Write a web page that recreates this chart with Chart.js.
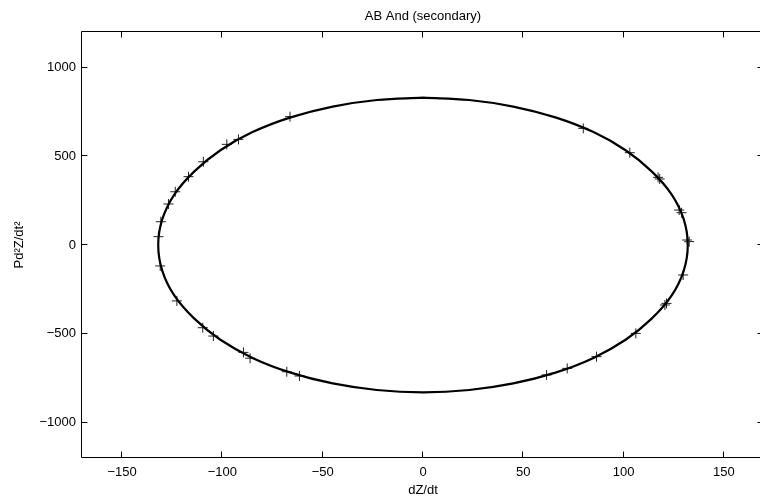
<!DOCTYPE html>
<html><head><meta charset="utf-8">
<script src="https://cdn.jsdelivr.net/npm/chart.js@4/dist/chart.umd.min.js"></script>
<style>
html,body{margin:0;padding:0;background:#fff;overflow:hidden;}
#wrap{width:780px;height:499px;position:relative;}
</style></head>
<body><div id="wrap"><canvas id="c" width="780" height="499"></canvas></div>
<script>
const chartTitle = 'AB And (secondary)';
const xLabel = 'dZ/dt';
const yLabel = 'Pd\u00B2Z/dt\u00B2';
const xTicks = [-150, -100, -50, 0, 50, 100, 150];
const yTicks = [-1000, -500, 0, 500, 1000];

// fitted orbit curve
const fitX = [0, -23, -45, -66, -85, -101, -114, -124, -130, -132, -130, -124, -114, -101, -85, -66, -45, -23,
              0, 23, 45, 66, 85, 101, 114, 124, 130, 132, 130, 124, 114, 101, 85, 66, 45, 23, 0];
const fitY = [830, 817, 780, 719, 636, 534, 415, 284, 144, 0, -144, -284, -415, -534, -636, -719, -780, -817,
              -830, -817, -780, -719, -636, -534, -415, -284, -144, 0, 144, 284, 415, 534, 636, 719, 780, 817, 830];

// observed points (+ markers)
const obsX = [-66.3, -97.8, -92.0, -109.5, -116.9, -123.5, -126.9, -130.7, -131.9, -131.0,
              -122.7, -109.8, -104.5, -89.5, -86.2, -67.9, -61.6,
              79.9, 103.1, 117.2, 118.0, 127.7, 128.9, 131.7, 132.7, 129.7,
              121.4, 120.6, 106.1, 86.5, 71.9, 61.6];
const obsY = [723, 567, 595, 469, 385, 300, 231, 131, 47, -118,
              -315, -466, -513, -605, -638, -714, -738,
              657, 520, 381, 372, 197, 182, 28, 19, -169,
              -329, -338, -498, -629, -695, -732];

const FONT = "'Liberation Sans', Arial, Helvetica, sans-serif";
const fmt = v => (v < 0 ? '\u2212' + Math.abs(v) : String(v));

const boxPlugin = {
  id: 'matlabBox',
  afterDraw(chart) {
    const {ctx, chartArea: a} = chart;
    const xs = chart.scales.x, ys = chart.scales.y;
    const L = Math.round(a.left) - 0.5, R = Math.round(a.right) - 0.5;
    const T = Math.round(a.top) - 0.5, B = Math.round(a.bottom) - 0.5;
    const tl = 6;
    ctx.save();
    ctx.strokeStyle = '#000';
    ctx.lineWidth = 1;
    ctx.beginPath();
    ctx.rect(L, T, R - L, B - T);
    xTicks.forEach(v => {
      const px = Math.round(xs.getPixelForValue(v)) - 0.5;
      ctx.moveTo(px, B); ctx.lineTo(px, B - tl);
      ctx.moveTo(px, T); ctx.lineTo(px, T + tl);
    });
    yTicks.forEach(v => {
      const py = Math.round(ys.getPixelForValue(v)) - 0.5;
      ctx.moveTo(L, py); ctx.lineTo(L + tl, py);
      ctx.moveTo(R, py); ctx.lineTo(R - tl, py);
    });
    ctx.stroke();
    ctx.restore();
  }
};

new Chart(document.getElementById('c'), {
  type: 'scatter',
  data: {
    datasets: [
      {
        label: 'fit',
        data: fitX.map((x, i) => ({x, y: fitY[i]})),
        showLine: true,
        borderColor: '#000',
        borderWidth: 2.2,
        pointRadius: 0,
        tension: 0.4,
        fill: false
      },
      {
        label: 'obs',
        data: obsX.map((x, i) => ({x, y: obsY[i]})),
        showLine: false,
        pointStyle: 'cross',
        pointRadius: 5,
        borderColor: '#222',
        borderWidth: 1,
        backgroundColor: '#222'
      }
    ]
  },
  options: {
    responsive: false,
    animation: false,
    devicePixelRatio: 1,
    layout: {padding: {left: 0, right: 16, top: 0, bottom: 0}},
    plugins: {
      legend: {display: false},
      tooltip: {enabled: false},
      title: {
        display: true,
        text: chartTitle,
        fullSize: false,
        color: '#000',
        font: {family: FONT, size: 13, weight: 'normal', lineHeight: 1.2},
        padding: {top: 9, bottom: 7.4}
      }
    },
    scales: {
      x: {
        type: 'linear',
        min: -170, max: 170,
        afterBuildTicks: s => { s.ticks = xTicks.map(v => ({value: v})); },
        afterFit: s => { s.height = 41; },
        grid: {display: false, drawTicks: false},
        border: {display: false},
        ticks: {color: '#000', font: {family: FONT, size: 13}, padding: 7, callback: v => fmt(v), maxRotation: 0},
        title: {display: true, text: xLabel, color: '#000', font: {family: FONT, size: 13, lineHeight: 1.2}, padding: {top: 0, bottom: 1}}
      },
      y: {
        type: 'linear',
        min: -1200, max: 1200,
        afterBuildTicks: s => { s.ticks = yTicks.map(v => ({value: v})); },
        afterFit: s => { s.width = 82; },
        grid: {display: false, drawTicks: false},
        border: {display: false},
        ticks: {color: '#000', font: {family: FONT, size: 13}, padding: 6, callback: v => fmt(v)},
        title: {display: true, text: yLabel, color: '#000', font: {family: FONT, size: 13, lineHeight: 1.2}, padding: {top: 12, bottom: 0}}
      }
    }
  },
  plugins: [boxPlugin]
});
</script>
</body></html>
